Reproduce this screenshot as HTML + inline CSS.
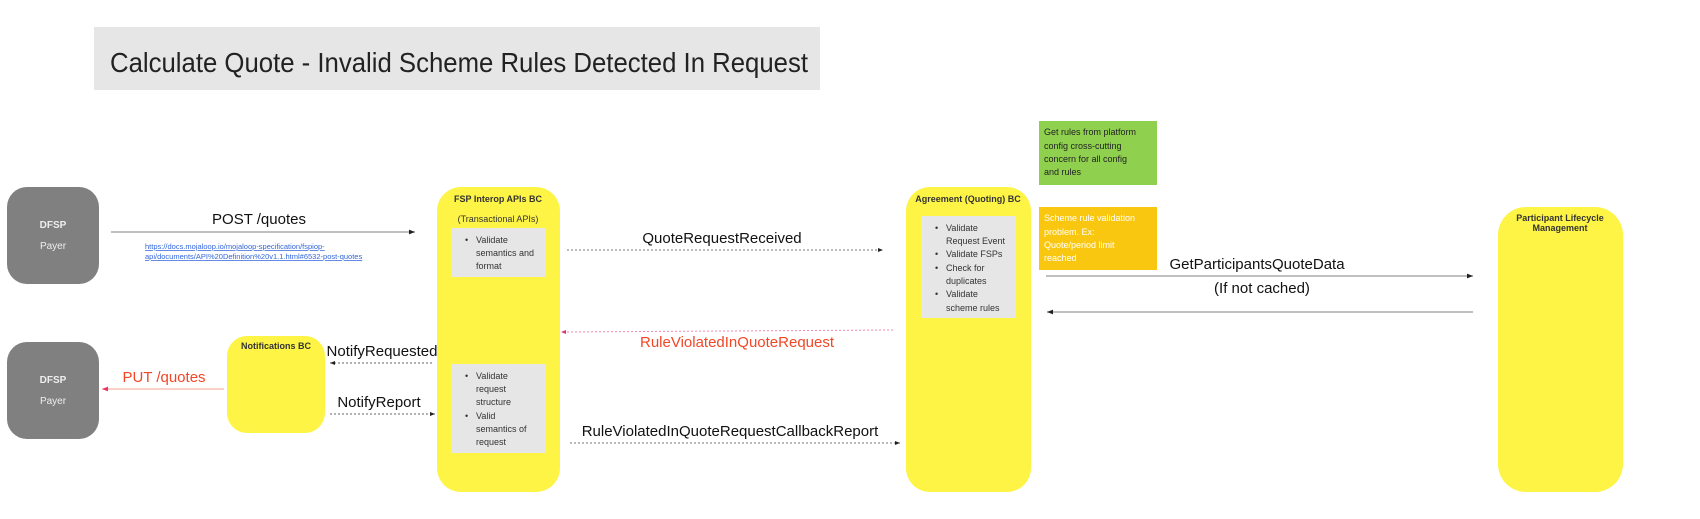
<!DOCTYPE html>
<html><head><meta charset="utf-8"><style>
html,body{margin:0;padding:0;background:#fff;width:1700px;height:519px;overflow:hidden}
svg{display:block}
text{font-family:"Liberation Sans",sans-serif}
</style></head><body>
<svg width="1700" height="519" viewBox="0 0 1700 519" xmlns="http://www.w3.org/2000/svg">
<defs>
<marker id="a" markerWidth="6" markerHeight="6" refX="5" refY="3" orient="auto"><path d="M0,1 L5,3 L0,5 z" fill="#222"/></marker>
<marker id="r" markerWidth="6" markerHeight="6" refX="5" refY="3" orient="auto"><path d="M0,1 L5,3 L0,5 z" fill="#e8336a"/></marker>
</defs>
<!-- title -->
<rect x="94" y="27" width="726" height="63" fill="#e6e6e6"/>
<text x="110" y="72" font-size="28" fill="#222" textLength="698" lengthAdjust="spacingAndGlyphs">Calculate Quote - Invalid Scheme Rules Detected In Request</text>

<!-- DFSP boxes -->
<rect x="7" y="187" width="92" height="97" rx="20" fill="#808080"/>
<text x="53" y="228" font-size="10" font-weight="bold" fill="#eee" text-anchor="middle">DFSP</text>
<text x="53" y="249" font-size="10" fill="#eee" text-anchor="middle">Payer</text>
<rect x="7" y="342" width="92" height="97" rx="20" fill="#808080"/>
<text x="53" y="383" font-size="10" font-weight="bold" fill="#eee" text-anchor="middle">DFSP</text>
<text x="53" y="404" font-size="10" fill="#eee" text-anchor="middle">Payer</text>

<!-- POST -->
<text x="259" y="224" font-size="15" fill="#111" text-anchor="middle">POST /quotes</text>
<line x1="111" y1="232" x2="415" y2="232" stroke="#999" stroke-width="1.2" marker-end="url(#a)"/>
<text x="145" y="249" font-size="7.5" fill="#3366dd" text-decoration="underline">https://docs.mojaloop.io/mojaloop-specification/fspiop-</text>
<text x="145" y="259" font-size="7.5" fill="#3366dd" text-decoration="underline">api/documents/API%20Definition%20v1.1.html#6532-post-quotes</text>

<!-- Notifications -->
<rect x="227" y="336" width="98" height="97" rx="20" fill="#fef445"/>
<text x="276" y="349" font-size="9" font-weight="bold" fill="#333" text-anchor="middle">Notifications BC</text>
<text x="164" y="382" font-size="15" fill="#f24726" text-anchor="middle">PUT /quotes</text>
<line x1="224" y1="389" x2="102" y2="389" stroke="#f6b5a8" stroke-width="1.2" marker-end="url(#r)"/>
<text x="382" y="356" font-size="15" fill="#111" text-anchor="middle">NotifyRequested</text>
<line x1="432" y1="363" x2="330" y2="363" stroke="#666" stroke-dasharray="2,2" marker-end="url(#a)"/>
<text x="379" y="407" font-size="15" fill="#111" text-anchor="middle">NotifyReport</text>
<line x1="330" y1="414" x2="435" y2="414" stroke="#666" stroke-dasharray="2,2" marker-end="url(#a)"/>

<!-- FSP Interop -->
<rect x="437" y="187" width="123" height="305" rx="24" fill="#fef445"/>
<text x="498" y="202" font-size="9" font-weight="bold" fill="#333" text-anchor="middle">FSP Interop APIs BC</text>
<text x="498" y="222" font-size="9" fill="#333" text-anchor="middle">(Transactional APIs)</text>
<rect x="451" y="228" width="95" height="49" fill="#e6e6e6"/>
<g font-size="9" fill="#333">
<text x="465" y="243">•</text><text x="476" y="243">Validate</text>
<text x="476" y="256">semantics and</text>
<text x="476" y="269">format</text>
</g>
<rect x="451" y="364" width="95" height="89" fill="#e6e6e6"/>
<g font-size="9" fill="#333">
<text x="465" y="379">•</text><text x="476" y="379">Validate</text>
<text x="476" y="392">request</text>
<text x="476" y="405">structure</text>
<text x="465" y="419">•</text><text x="476" y="419">Valid</text>
<text x="476" y="432">semantics of</text>
<text x="476" y="445">request</text>
</g>

<!-- middle arrows -->
<text x="722" y="243" font-size="15" fill="#111" text-anchor="middle">QuoteRequestReceived</text>
<line x1="567" y1="250" x2="883" y2="250" stroke="#777" stroke-dasharray="2,2" marker-end="url(#a)"/>
<line x1="893" y1="330" x2="561" y2="332" stroke="#f08ab0" stroke-dasharray="2,2" marker-end="url(#r)"/>
<text x="737" y="347" font-size="15" fill="#f24726" text-anchor="middle">RuleViolatedInQuoteRequest</text>
<text x="730" y="436" font-size="15" fill="#111" text-anchor="middle">RuleViolatedInQuoteRequestCallbackReport</text>
<line x1="570" y1="443" x2="900" y2="443" stroke="#777" stroke-dasharray="2,2" marker-end="url(#a)"/>

<!-- Agreement -->
<rect x="906" y="187" width="125" height="305" rx="24" fill="#fef445"/>
<text x="968" y="202" font-size="9" font-weight="bold" fill="#333" text-anchor="middle">Agreement (Quoting) BC</text>
<rect x="921" y="216" width="95" height="102" fill="#e6e6e6"/>
<g font-size="9" fill="#333">
<text x="935" y="231">•</text><text x="946" y="231">Validate</text>
<text x="946" y="244">Request Event</text>
<text x="935" y="257">•</text><text x="946" y="257">Validate FSPs</text>
<text x="935" y="271">•</text><text x="946" y="271">Check for</text>
<text x="946" y="284">duplicates</text>
<text x="935" y="297">•</text><text x="946" y="297">Validate</text>
<text x="946" y="311">scheme rules</text>
</g>

<!-- notes -->
<rect x="1039" y="121" width="118" height="64" fill="#8fd14f"/>
<g font-size="9" fill="#222">
<text x="1044" y="135">Get rules from platform</text>
<text x="1044" y="149">config cross-cutting</text>
<text x="1044" y="162">concern for all config</text>
<text x="1044" y="175">and rules</text>
</g>
<rect x="1039" y="207" width="118" height="63" fill="#fac710"/>
<g font-size="9" fill="#fff">
<text x="1044" y="221">Scheme rule validation</text>
<text x="1044" y="235">problem. Ex:</text>
<text x="1044" y="248">Quote/period limit</text>
<text x="1044" y="261">reached</text>
</g>

<!-- Get participants -->
<text x="1257" y="269" font-size="15" fill="#111" text-anchor="middle">GetParticipantsQuoteData</text>
<line x1="1046" y1="276" x2="1473" y2="276" stroke="#999" stroke-width="1.2" marker-end="url(#a)"/>
<text x="1262" y="293" font-size="15" fill="#111" text-anchor="middle">(If not cached)</text>
<line x1="1473" y1="312" x2="1047" y2="312" stroke="#999" stroke-width="1.2" marker-end="url(#a)"/>

<!-- Participant -->
<rect x="1498" y="207" width="125" height="285" rx="28" fill="#fef445"/>
<text x="1560" y="221" font-size="9" font-weight="bold" fill="#333" text-anchor="middle">Participant Lifecycle</text>
<text x="1560" y="231" font-size="9" font-weight="bold" fill="#333" text-anchor="middle">Management</text>
</svg>
</body></html>
